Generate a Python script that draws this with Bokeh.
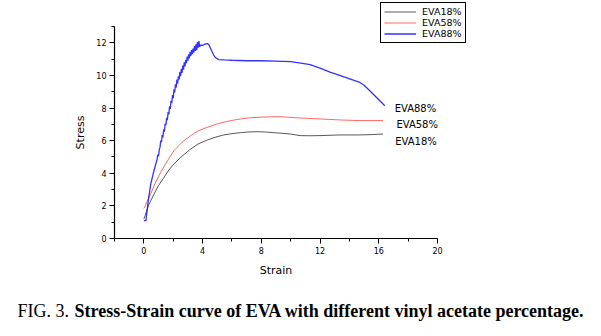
from bokeh.plotting import figure
from bokeh.models import (ColumnDataSource, Legend, LegendItem, SingleIntervalTicker,
                          Range1d, Label)
from bokeh.core.properties import value
from bokeh.embed import file_html
from bokeh.resources import INLINE

# ---- data ----
eva18_x = [0.0, 0.09, 0.3, 0.7, 1.0, 1.38, 1.7, 2.05, 2.6, 3.19, 3.7, 4.32, 4.9, 5.44, 6.0,
           6.58, 7.1, 7.71, 8.3, 8.83, 9.4, 9.97, 10.64, 11.3, 12.0, 13.36, 14.7, 15.5, 16.29]
eva18_y = [1.2, 1.41, 2.0, 2.74, 3.25, 3.76, 4.2, 4.57, 5.05, 5.49, 5.8, 6.04, 6.22, 6.35, 6.43,
           6.49, 6.53, 6.55, 6.53, 6.49, 6.45, 6.41, 6.31, 6.3, 6.31, 6.35, 6.35, 6.37, 6.41]

eva58_x = [0.0, 0.1, 0.25, 0.47, 0.8, 1.15, 1.6, 2.05, 2.6, 3.19, 3.7, 4.32, 4.9, 5.44, 6.0,
           6.58, 7.1, 7.71, 8.5, 9.29, 9.97, 10.64, 12.0, 13.36, 14.7, 16.29]
eva58_y = [1.85, 2.0, 2.35, 2.74, 3.45, 4.06, 4.75, 5.39, 5.9, 6.31, 6.6, 6.82, 7.0, 7.13, 7.24,
           7.33, 7.39, 7.43, 7.46, 7.47, 7.43, 7.39, 7.33, 7.27, 7.23, 7.23]

eva88_x = [0.0, 0.14, 0.3, 0.47, 0.7, 0.90, 0.95, 1.00, 1.05, 1.10, 1.15, 1.20, 1.25, 1.30, 1.35,
           1.40, 1.45, 1.50, 1.55, 1.60, 1.65, 1.70, 1.75, 1.80, 1.85, 1.90, 1.95, 2.00, 2.05,
           2.10, 2.15, 2.20, 2.25, 2.30, 2.35, 2.40, 2.45, 2.50, 2.55, 2.60, 2.65, 2.70, 2.75,
           2.80, 2.85, 2.90, 2.95, 3.00, 3.05, 3.10, 3.15, 3.20, 3.25, 3.30, 3.35, 3.40, 3.45,
           3.50, 3.55, 3.60, 3.65, 3.70, 3.75, 3.80, 3.85, 4.0, 4.2, 4.35, 4.45, 4.6, 4.75, 4.9,
           5.1, 5.5, 6.0, 7.0, 8.0, 9.0, 10.0, 10.7, 11.32, 12.0, 12.68, 13.58, 14.71, 15.0,
           15.39, 15.9, 16.41]
eva88_y = [1.1, 1.1, 2.3, 3.35, 4.2, 4.85, 5.15, 5.05, 5.45, 5.60, 6.00, 5.90, 6.35, 6.20, 6.70,
           6.55, 7.05, 6.95, 7.40, 7.25, 7.75, 7.60, 8.10, 7.95, 8.45, 8.30, 8.80, 8.60, 9.15,
           8.95, 9.45, 9.25, 9.75, 9.50, 9.95, 9.75, 10.20, 9.95, 10.40, 10.15, 10.60, 10.35,
           10.80, 10.55, 10.95, 10.75, 11.15, 10.90, 11.30, 11.05, 11.45, 11.20, 11.55, 11.30,
           11.65, 11.40, 11.80, 11.50, 11.90, 11.55, 12.05, 11.70, 12.10, 11.75, 11.85, 11.85,
           11.93, 11.95, 11.85, 11.55, 11.25, 11.08, 10.97, 10.95, 10.93, 10.9, 10.9, 10.88,
           10.84, 10.76, 10.66, 10.45, 10.2, 9.92, 9.57, 9.4, 9.06, 8.6, 8.14]

series_names = ["EVA18%", "EVA58%", "EVA88%"]
series_colors = ["#000000", "#ff0000", "#0000ff"]

end_labels = ["EVA88%", "EVA58%", "EVA18%"]
end_label_x = [17.08, 17.2, 17.12]
end_label_y = [7.96, 6.98, 5.94]

x_axis_range = (-2, 20)
y_axis_range = (0, 13)
x_ticks_interval = 4
y_ticks_interval = 2

caption_plain = "FIG. 3."
caption_bold = "Stress-Strain curve of EVA with different vinyl acetate percentage."

# ---- layout: the frame spans the whole canvas; axes are placed inside it ----
W, H = 601, 336
AX_LEFT_PX, AX_RIGHT_PX = 114, 437    # pixel columns of x = -2 and x = 20
AX_TOP_PX, AX_BOTTOM_PX = 26, 238     # pixel rows of y = 13 and y = 0

sx = (AX_RIGHT_PX - AX_LEFT_PX) / (x_axis_range[1] - x_axis_range[0])
sy = (AX_BOTTOM_PX - AX_TOP_PX) / (y_axis_range[1] - y_axis_range[0])
x0 = x_axis_range[0] - AX_LEFT_PX / sx
x1 = x_axis_range[0] + (W - AX_LEFT_PX) / sx
y0 = y_axis_range[0] - (H - AX_BOTTOM_PX) / sy
y1 = y_axis_range[1] + AX_TOP_PX / sy

p = figure(width=W, height=H, output_backend="svg", toolbar_location=None,
           x_range=Range1d(x0, x1), y_range=Range1d(y0, y1),
           min_border=0, min_border_left=0, min_border_right=0,
           min_border_top=0, min_border_bottom=0,
           background_fill_color="white", border_fill_color="white")
p.outline_line_color = None
p.xgrid.visible = False
p.ygrid.visible = False

FONT = "DejaVu Sans"

for ax, interval, bnds in ((p.xaxis[0], x_ticks_interval, x_axis_range),
                           (p.yaxis[0], y_ticks_interval, y_axis_range)):
    ax.ticker = SingleIntervalTicker(interval=interval, num_minor_ticks=2)
    ax.bounds = bnds
    ax.axis_line_color = "black"
    ax.axis_line_width = 1.2
    ax.major_tick_line_color = "black"
    ax.minor_tick_line_color = "black"
    ax.major_tick_in = 0
    ax.major_tick_out = 5
    ax.minor_tick_in = 0
    ax.minor_tick_out = 3
    ax.major_label_text_font = FONT
    ax.major_label_text_font_size = "8px"
    ax.major_label_text_color = "black"
    ax.major_label_standoff = 3
    ax.axis_label_text_font = FONT
    ax.axis_label_text_font_size = "11px"
    ax.axis_label_text_font_style = "normal"
    ax.axis_label_text_color = "black"

p.xaxis.fixed_location = y_axis_range[0]
p.yaxis.fixed_location = x_axis_range[0]
p.xaxis.axis_label = "Strain"
p.yaxis.axis_label = "Stress"
p.xaxis.axis_label_standoff = 7
p.yaxis.axis_label_standoff = 6

src18 = ColumnDataSource(dict(x=eva18_x, y=eva18_y))
src58 = ColumnDataSource(dict(x=eva58_x, y=eva58_y))
src88 = ColumnDataSource(dict(x=eva88_x, y=eva88_y))

r18 = p.line("x", "y", source=src18, line_color=series_colors[0], line_width=1, line_alpha=0.65)
r58 = p.line("x", "y", source=src58, line_color=series_colors[1], line_width=1, line_alpha=0.6)
r88 = p.line("x", "y", source=src88, line_color=series_colors[2], line_width=1.3, line_alpha=0.8)

lsrc = ColumnDataSource(dict(x=end_label_x, y=end_label_y, t=end_labels))
p.text("x", "y", text="t", source=lsrc, text_font=value(FONT), text_font_size="10px",
       text_baseline="middle", text_align="left", text_color="black")

legend = Legend(items=[LegendItem(label=series_names[0], renderers=[r18]),
                       LegendItem(label=series_names[1], renderers=[r58]),
                       LegendItem(label=series_names[2], renderers=[r88])],
                location=(380, H - 43), margin=0, padding=3, spacing=0,
                glyph_width=32, glyph_height=11, label_height=11, label_standoff=6,
                label_text_font=FONT, label_text_font_size="9.5px",
                label_text_color="black",
                border_line_color="black", border_line_width=1, border_line_alpha=1,
                background_fill_color="white", background_fill_alpha=1)
p.add_layout(legend)

CAPTION_BASELINE_PX = 310
p.add_layout(Label(x=17, y=H - CAPTION_BASELINE_PX, x_units="screen", y_units="screen",
                   text=caption_plain,
                   text_font="Liberation Serif", text_font_size="18px",
                   text_baseline="alphabetic", text_color="black"))
p.add_layout(Label(x=74, y=H - CAPTION_BASELINE_PX, x_units="screen", y_units="screen",
                   text=caption_bold,
                   text_font="Liberation Serif", text_font_size="18px", text_font_style="bold",
                   text_baseline="alphabetic", text_color="black"))

open("out.html", "w").write(file_html(p, INLINE))
